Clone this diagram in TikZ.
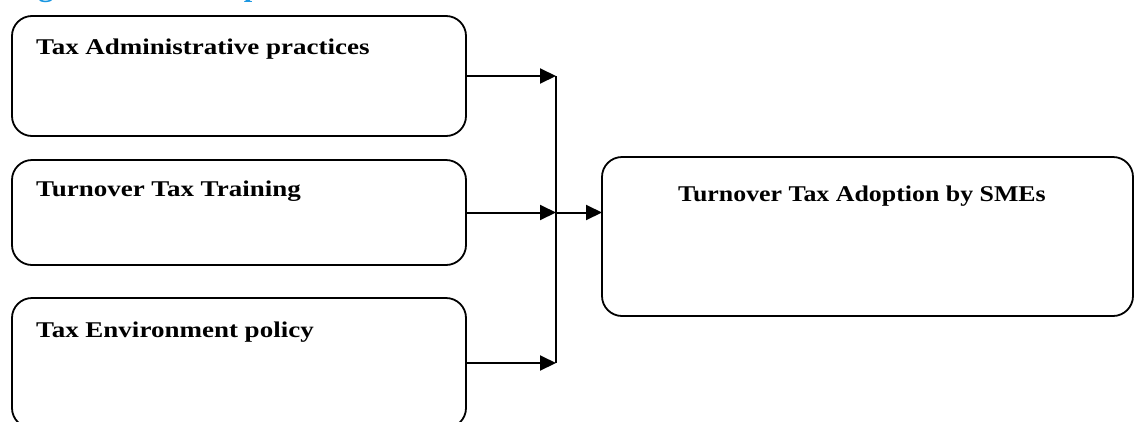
\documentclass[tikz,border=0pt]{standalone}
\usepackage{fontspec}
\setmainfont{Liberation Serif}
\usepackage{graphicx}
\usetikzlibrary{arrows.meta}
\definecolor{capblue}{RGB}{25,150,225}
\tikzset{
  box/.style={draw=black, line width=1.8pt, rounded corners=20pt, inner sep=0pt, outer sep=0pt, anchor=north west},
  lbl/.style={inner sep=0pt, anchor=base west, font=\fontsize{22.5}{27}\selectfont\bfseries},
  arr/.style={line width=2pt, -{Triangle[length=16pt,width=15pt]}},
  bus/.style={line width=1.6pt}
}
\newcommand{\wide}[1]{\scalebox{1.2}[1]{#1}}
\begin{document}
\begin{tikzpicture}[x=1pt,y=-1pt]
\useasboundingbox (0,0) rectangle (1135,421);
% clipped caption
\node[inner sep=0pt, anchor=base west, text=capblue, font=\fontsize{28}{32}\selectfont\bfseries] (cap) at (11,-3.8) {\scalebox{1.087}[1]{Figure 2.1: Conceptual Framework}};
% boxes
\node[box, minimum width=454pt, minimum height=120pt] (b1) at (12,16) {};
\node[box, minimum width=454pt, minimum height=105pt] (b2) at (12,160) {};
\node[box, minimum width=454pt, minimum height=130pt] (b3) at (12,298) {};
\node[box, minimum width=531pt, minimum height=159pt] (b4) at (602,157) {};
% labels
\node[lbl] (t1) at (36,54) {\wide{Tax Administrative practices}};
\node[lbl] (t2) at (36,196) {\wide{Turnover Tax Training}};
\node[lbl] (t3) at (36,337) {\wide{Tax Environment policy}};
\node[lbl, anchor=base] (t4) at (862,201) {\scalebox{1.15}[1]{Turnover Tax Adoption by SMEs}};
% junction coordinates
\coordinate (j1) at (556,76);
\coordinate (j2) at (556,212.5);
\coordinate (j3) at (556,363);
% connectors
\draw[bus] (j1) -- (j3);
\draw[arr] (b1.east) -- (j1);
\draw[arr] (b2.east) -- (j2);
\draw[arr] (b3.east) -- (j3);
\draw[arr] (j2) -- (b4.west |- j2);
\end{tikzpicture}
\end{document}
